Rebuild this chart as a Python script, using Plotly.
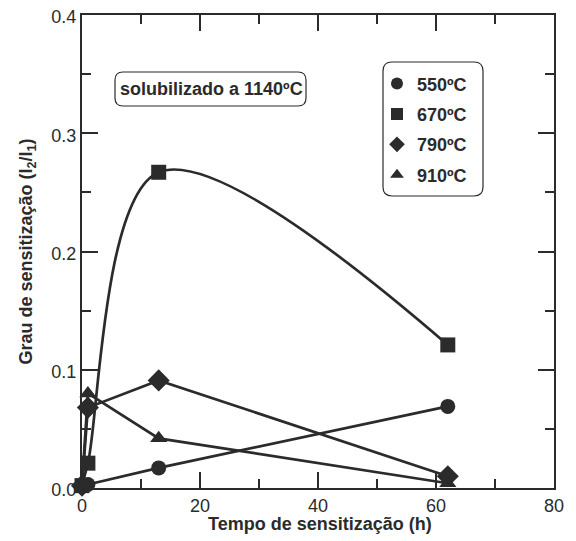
import plotly.graph_objects as go

# Data
series_names = ["550ºC", "670ºC", "790ºC", "910ºC"]
symbols = ["circle", "square", "diamond", "triangle-up"]
t_550 = [0, 1, 13, 62]
y_550 = [0.002, 0.003, 0.017, 0.069]
t_670 = [0, 1, 13, 62]
y_670 = [0.002, 0.021, 0.267, 0.121]
t_790 = [0, 1, 13, 62]
y_790 = [0.002, 0.068, 0.091, 0.010]
t_910 = [0, 1, 13, 62]
y_910 = [0.002, 0.080, 0.042, 0.004]
x_ticks = [0, 20, 40, 60, 80]
y_ticks = [0, 0.1, 0.2, 0.3, 0.4]

xs = [t_550, t_670, t_790, t_910]
ys = [y_550, y_670, y_790, y_910]
shapes_line = ["linear", "spline", "linear", "linear"]

INK = "#2b2b2b"
FONT = "Liberation Sans"

fig = go.Figure()
for i in range(4):
    fig.add_trace(go.Scatter(
        x=xs[i], y=ys[i], mode="lines",
        line=dict(color=INK, width=2.7, shape=shapes_line[i], smoothing=1.0),
        showlegend=False, cliponaxis=False, hoverinfo="skip"))
for i in range(4):
    fig.add_trace(go.Scatter(
        x=xs[i], y=ys[i], mode="markers", name=f"<b>{series_names[i]}</b>",
        legendgroup=f"g{i}",
        marker=dict(symbol=symbols[i], size=15 if symbols[i] != "diamond" else 17,
                    color=INK, line=dict(width=0)),
        cliponaxis=False))

axis_common = dict(
    showline=True, linecolor=INK, linewidth=2, mirror="ticks",
    ticks="inside", ticklen=16, tickwidth=2, tickcolor=INK,
    showgrid=False, zeroline=False, automargin=False,
    ticklabeloverflow="allow",
    tickfont=dict(family=FONT, size=18, color=INK),
)

# page body has an 8px offset; plot area targeted at x 82..554, y 15..488 in the window
fig.update_layout(
    width=560, height=533,
    margin=dict(l=74, r=14, t=7, b=53, autoexpand=False),
    paper_bgcolor="white", plot_bgcolor="white",
    xaxis=dict(range=[0, 80], tickvals=x_ticks,
               minor=dict(ticks="inside", ticklen=9, tickwidth=2, tickcolor=INK, dtick=10, tick0=0),
               **axis_common),
    yaxis=dict(range=[0, 0.4], tickvals=y_ticks, tickformat=".1f", ticklabelshift=2,
               minor=dict(ticks="inside", ticklen=9, tickwidth=2, tickcolor=INK, dtick=0.05, tick0=0),
               title=dict(text="<b>Grau de sensitização (I<sub>2</sub>/I<sub>1</sub>)</b>",
                          font=dict(family=FONT, size=18, color=INK), standoff=14),
               **axis_common),
    legend=dict(x=0.625, y=0.8935, xanchor="left", yanchor="top",
                bgcolor="rgba(0,0,0,0)", borderwidth=0,
                font=dict(family=FONT, size=18, color=INK),
                tracegroupgap=4, itemsizing="constant"),
    showlegend=True,
)

# convert window pixel coords to paper coords of the plot area
PL, PR, PT, PB = 82, 554, 15, 488
def px(x):
    return (x - PL) / (PR - PL)
def py(y):
    return (PB - y) / (PB - PT)

def rr_paper(x0, y0, x1, y1, rx, ry):
    a, b, c, d = px(x0), py(y1), px(x1), py(y0)
    rxp = rx / (PR - PL)
    ryp = ry / (PB - PT)
    return (f"M{a+rxp},{b} L{c-rxp},{b} Q{c},{b} {c},{b+ryp} L{c},{d-ryp} "
            f"Q{c},{d} {c-rxp},{d} L{a+rxp},{d} Q{a},{d} {a},{d-ryp} "
            f"L{a},{b+ryp} Q{a},{b} {a+rxp},{b} Z")

fig.add_shape(type="path", xref="paper", yref="paper",
              path=rr_paper(115, 72, 306, 106, 8, 8),
              line=dict(color=INK, width=1.2))
fig.add_shape(type="path", xref="paper", yref="paper",
              path=rr_paper(383, 62, 483, 196, 9, 9),
              line=dict(color=INK, width=1.2))
fig.add_annotation(xref="paper", yref="paper", x=px(211), y=py(89),
                   xanchor="center", yanchor="middle",
                   text="<b>solubilizado a 1140ºC</b>", showarrow=False,
                   font=dict(family=FONT, size=18, color=INK))
# x-axis title
fig.add_annotation(xref="paper", yref="paper", x=px(320), y=py(524),
                   xanchor="center", yanchor="middle",
                   text="<b>Tempo de sensitização (h)</b>", showarrow=False,
                   font=dict(family=FONT, size=18, color=INK))

fig.write_html("out.html")
